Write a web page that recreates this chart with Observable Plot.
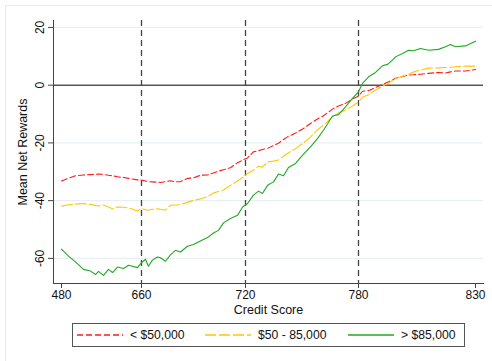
<!DOCTYPE html>
<html>
<head>
<meta charset="utf-8">
<script src="https://cdn.jsdelivr.net/npm/d3@7"></script>
<script src="https://cdn.jsdelivr.net/npm/@observablehq/plot@0.6"></script>
<style>
  html, body { margin: 0; padding: 0; background: #fff; overflow: hidden; }
  #wrap { position: relative; width: 492px; height: 361px; overflow: hidden; font-family: "Liberation Sans", Arial, sans-serif; }
  #outer { position: absolute; left: 5px; top: 5px; width: 600px; height: 600px; border: 1px solid #e4ecee; box-sizing: border-box; }
  #chart { position: absolute; left: 0; top: 0; }
  #legend { position: absolute; left: 72px; top: 323px; width: 393px; height: 24px; border: 1px solid #555; box-sizing: border-box; background: #fff; font-size: 12.2px; color: #111; }
  .item { position: absolute; top: 0; height: 22px; display: flex; align-items: center; }
  .item svg { margin-right: 7px; }
</style>
</head>
<body>
<div id="wrap">
  <div id="outer"></div>
  <div id="chart"></div>
  <div id="legend"></div>
</div>
<script>
// Credit scores (x positions of the smoothed curves)
const scores = [480, 495.8, 511.5, 529.5, 545.3, 556.5, 563.3, 574.5, 585.8, 594.8, 606, 619.5, 630.8, 651,
  660, 662.3, 664.0, 666.3, 669.2, 671.0, 673.8, 676.7, 679.6, 682.5, 686.5, 690.0, 694.0, 698.1, 701.5, 704.4, 707.3, 711.3, 715.4, 718.3,
  721.1, 724.2, 726.9, 729.0, 731.7, 734.9, 737.5, 740.2, 742.8, 746.6, 750.8, 754.5, 758.2, 761.4, 766.2, 769.4, 773.1, 776.8,
  780, 781.7, 784.3, 787.3, 790.2, 792.4, 794.5, 795.8, 798.8, 801.4, 803.5, 806.5, 809.9, 814.2, 817.2, 819.3, 821.4, 825.7, 830];

// Mean net rewards, income < $50,000
const lowIncome = [-33.2, -32.2, -31.4, -31.1, -31.0, -30.9, -30.8, -30.9, -31.2, -31.4, -31.7, -32.0, -32.3, -32.8,
  -32.9, -33.2, -33.4, -33.5, -33.6, -33.7, -33.4, -33.1, -33.5, -33.4, -32.3, -32.1, -31.2, -31.1, -30.4, -29.8, -29.3, -28.6, -26.9, -26.0,
  -25.2, -23.1, -22.7, -22.3, -21.9, -20.9, -20.1, -18.8, -17.7, -16.6, -15.0, -13.3, -11.7, -10.6, -8.3, -7.2, -6.3, -4.8,
  -3.8, -2.1, -1.9, -0.8, 0.2, 1.0, 1.8, 2.4, 3.0, 3.5, 3.6, 3.8, 4.1, 4.4, 4.2, 4.6, 4.9, 4.9, 5.4];

// Mean net rewards, income $50 - 85,000
const midIncome = [-41.9, -41.4, -41.2, -41.0, -41.3, -41.7, -41.8, -41.5, -42.2, -42.8, -42.2, -42.3, -42.5, -43.6,
  -42.8, -43.1, -43.3, -43.0, -42.8, -43.0, -43.3, -41.6, -41.5, -41.4, -40.6, -39.9, -39.4, -38.6, -37.3, -36.8, -36.3, -34.7, -33.2, -32.0,
  -30.6, -29.5, -28.1, -28.4, -26.6, -26.3, -25.9, -24.6, -23.4, -22.0, -20.0, -18.0, -15.5, -13.8, -11.0, -9.6, -8.6, -7.2,
  -5.8, -4.2, -3.3, -1.7, -0.4, 0.5, 1.6, 2.3, 3.1, 3.8, 4.6, 5.2, 5.9, 6.0, 6.1, 6.2, 6.4, 6.6, 6.6];

// Mean net rewards, income > $85,000
const highIncome = [-56.8, -59.2, -61.2, -63.8, -64.4, -65.6, -64.5, -65.9, -63.8, -64.9, -63.0, -63.5, -62.4, -63.2,
  -61.5, -60.3, -62.7, -60.6, -59.5, -59.8, -61.0, -58.8, -57.2, -57.8, -55.8, -55.2, -54.0, -52.8, -51.2, -50.3, -47.7, -46.2, -45.1, -42.2,
  -41.0, -38.1, -36.7, -37.5, -34.7, -33.5, -30.8, -31.4, -28.5, -27.1, -23.9, -21.4, -18.5, -15.6, -10.7, -10.2, -7.5, -4.6,
  -2.3, 0.6, 2.9, 4.4, 6.7, 7.2, 8.7, 9.8, 11.0, 12.1, 11.9, 12.7, 12.1, 12.4, 13.3, 14.1, 13.3, 13.6, 15.2];

const seriesNames = ["< $50,000", "$50 - 85,000", "> $85,000"];
const seriesColors = ["#ff1a1a", "#ffc800", "#22a822"];
const seriesDash = ["6,3", "11,3", null];

const xTicks = [480, 660, 720, 780, 830];
const yTicks = [-60, -40, -20, 0, 20];
const gridTicks = [-60, -40, -20, 20];
const cutoffs = [660, 720, 780];
const zeroLine = [0];

// The credit-score axis is not evenly spaced: each labelled score sits at its own
// position along the axis (axis units 0..430), piecewise-linear in between.
const tickSpots = [8, 88, 192, 305, 422];
const warp = d3.scaleLinear().domain(xTicks).range(tickSpots);
const unwarp = d3.scaleLinear().domain(tickSpots).range(xTicks);

const table = [lowIncome, midIncome, highIncome].map((vals, s) =>
  scores.map((x, i) => ({score: x, value: vals[i], series: seriesNames[s]})));

const chart = Plot.plot({
  width: 492,
  height: 320,
  marginLeft: 53,
  marginRight: 9,
  marginTop: 20,
  marginBottom: 37,
  style: {fontFamily: "'Liberation Sans', Arial, sans-serif", fontSize: "12px", color: "#111", background: "transparent"},
  x: {type: "linear", transform: warp, domain: [0, 430]},
  y: {domain: [-68.7, 22.4]},
  marks: [
    Plot.ruleY(gridTicks, {stroke: "#e3edef", strokeWidth: 1}),
    Plot.ruleY(zeroLine, {stroke: "#555", strokeWidth: 1.5}),
    Plot.ruleX(cutoffs, {stroke: "#444", strokeWidth: 1.3, strokeDasharray: "6,4"}),
    ...table.map((d, s) => Plot.line(d, {x: "score", y: "value", stroke: seriesColors[s], strokeWidth: 1.1, strokeDasharray: seriesDash[s] || "none"})),
    Plot.frame({anchor: "left", stroke: "#444"}),
    Plot.frame({anchor: "bottom", stroke: "#444"}),
    Plot.axisX({ticks: tickSpots, tickFormat: d => String(Math.round(unwarp(d))), tickSize: 5, tickPadding: 2, stroke: "#444", label: null, fontSize: 12}),
    Plot.axisX({ticks: [], label: "Credit Score", labelAnchor: "center", labelOffset: 30, labelArrow: "none", fontSize: 12.5}),
    Plot.axisY({ticks: yTicks, tickFormat: d => String(d), tickSize: 5, tickPadding: 5, tickRotate: -90, stroke: "#444", label: null, fontSize: 12}),
    Plot.axisY({ticks: [], label: "Mean Net Rewards", labelAnchor: "center", labelOffset: 35, labelArrow: "none", fontSize: 12.5})
  ]
});
document.getElementById("chart").appendChild(chart);

// Legend
const legendPos = [[4, 56], [132, 186], [275, 329]];
const legend = document.getElementById("legend");
seriesNames.forEach((name, i) => {
  const item = document.createElement("div");
  item.className = "item";
  item.style.left = legendPos[i][0] + "px";
  const dash = seriesDash[i] ? `stroke-dasharray="${seriesDash[i]}"` : "";
  item.innerHTML = `<svg width="46" height="6"><line x1="0" x2="46" y1="3" y2="3" stroke="${seriesColors[i]}" stroke-width="1.4" ${dash}/></svg><span>${name}</span>`;
  legend.appendChild(item);
});
</script>
</body>
</html>
